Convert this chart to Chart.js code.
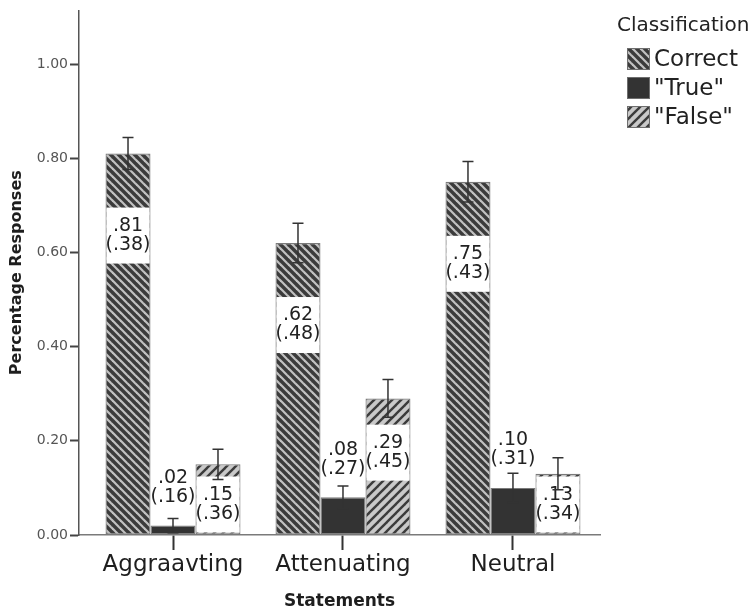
<!DOCTYPE html>
<html>
<head>
<meta charset="utf-8">
<script src="https://cdn.jsdelivr.net/npm/chart.js@4.4.1/dist/chart.umd.min.js"></script>
<style>
  html, body { margin: 0; padding: 0; background: #ffffff; }
  canvas { display: block; }
</style>
</head>
<body>
<canvas id="c" width="754" height="615"></canvas>
<script>
// Mean proportion of responses per statement type, with SD and 95% CI half-width
const categories = ['Aggraavting', 'Attenuating', 'Neutral'];
const seriesNames = ['Correct', '"True"', '"False"'];
const correctMeans = [0.81, 0.62, 0.75];
const correctSD = [0.38, 0.48, 0.43];
const correctCI = [0.034, 0.042, 0.043];
const trueMeans = [0.02, 0.08, 0.10];
const trueSD = [0.16, 0.27, 0.31];
const trueCI = [0.015, 0.024, 0.031];
const falseMeans = [0.15, 0.29, 0.13];
const falseSD = [0.36, 0.45, 0.34];
const falseCI = [0.032, 0.040, 0.034];
const yTicks = [0, 0.2, 0.4, 0.6, 0.8, 1.0];

Chart.defaults.font.family = '"DejaVu Sans", sans-serif';

const canvas = document.getElementById('c');
const ctx = canvas.getContext('2d');

// Diagonal hatch fill: 'down' = "\" stripes, 'up' = "/" stripes
function hatch(bg, fg, size, lw, dir) {
  const t = document.createElement('canvas');
  t.width = t.height = size;
  const g = t.getContext('2d');
  g.fillStyle = bg;
  g.fillRect(0, 0, size, size);
  g.strokeStyle = fg;
  g.lineWidth = lw;
  for (let k = -1; k <= 1; k++) {
    g.beginPath();
    if (dir === 'down') {
      g.moveTo(k * size - size, -size);
      g.lineTo(k * size + 2 * size, 2 * size);
    } else {
      g.moveTo(k * size - size, 2 * size);
      g.lineTo(k * size + 2 * size, -size);
    }
    g.stroke();
  }
  return ctx.createPattern(t, 'repeat');
}

const fillCorrect = hatch('#3b3b3b', '#c2c2c2', 8, 2.2, 'down');
const fillTrue = '#333333';
const fillFalse = hatch('#c9c9c9', '#3b3b3b', 9, 2.4, 'up');
const fills = [fillCorrect, fillTrue, fillFalse];

const toPoints = arr => arr.map((v, i) => ({ x: i, y: v }));

const datasets = [
  { label: seriesNames[0], data: toPoints(correctMeans), backgroundColor: fillCorrect, sd: correctSD, ci: correctCI },
  { label: seriesNames[1], data: toPoints(trueMeans), backgroundColor: fillTrue, sd: trueSD, ci: trueCI },
  { label: seriesNames[2], data: toPoints(falseMeans), backgroundColor: fillFalse, sd: falseSD, ci: falseCI }
];

const fmt = v => v.toFixed(2).replace(/^0/, '');

// Value labels (mean and SD) in white boxes, then CI whiskers
const annotate = {
  id: 'annotate',
  afterDatasetsDraw(chart) {
    const c = chart.ctx;
    const yS = chart.scales.y;
    chart.data.datasets.forEach((ds, di) => {
      const meta = chart.getDatasetMeta(di);
      meta.data.forEach((bar, i) => {
        const p = bar.getProps(['x', 'y', 'base', 'width'], true);
        const mean = ds.data[i].y;
        const h = p.base - p.y;
        const boxH = 56;
        const boxW = p.width - 2;
        let cy;
        if (h > 60) {
          cy = p.y + Math.min(82, 27 + 0.2 * h);
          if (cy + boxH / 2 > p.base - 2) cy = p.base - 2 - boxH / 2;
          c.fillStyle = '#ffffff';
          c.fillRect(p.x - boxW / 2, cy - boxH / 2, boxW, boxH);
        } else {
          cy = p.y - 38;
        }
        c.save();
        c.fillStyle = '#222222';
        c.font = '19px "DejaVu Sans", sans-serif';
        c.textAlign = 'center';
        c.textBaseline = 'middle';
        c.fillText(fmt(mean), p.x, cy - 9.5);
        c.fillText('(' + fmt(ds.sd[i]) + ')', p.x, cy + 9.5);
        c.restore();

        const yTop = yS.getPixelForValue(mean + ds.ci[i]);
        const yBot = yS.getPixelForValue(mean - ds.ci[i]);
        c.save();
        c.strokeStyle = '#333333';
        c.lineWidth = 1.5;
        c.beginPath();
        c.moveTo(p.x, yTop); c.lineTo(p.x, yBot);
        c.moveTo(p.x - 5.5, yTop); c.lineTo(p.x + 5.5, yTop);
        c.moveTo(p.x - 5.5, yBot); c.lineTo(p.x + 5.5, yBot);
        c.stroke();
        c.restore();
      });
    });
  },
  afterDraw(chart) {
    const c = chart.ctx;
    c.save();
    c.fillStyle = '#222222';
    c.textAlign = 'left';
    c.textBaseline = 'middle';
    c.font = '20px "DejaVu Sans", sans-serif';
    c.fillText('Classification', 617, 26);
    c.font = '23px "DejaVu Sans", sans-serif';
    seriesNames.forEach((name, k) => {
      const top = 48 + k * 29;
      c.fillStyle = fills[k];
      c.fillRect(627, top, 23, 22);
      c.strokeStyle = '#6e6e6e';
      c.lineWidth = 1;
      c.strokeRect(627.5, top + 0.5, 22, 21);
      c.fillStyle = '#222222';
      c.fillText(name, 654, top + 12);
    });
    c.restore();
  }
};

new Chart(ctx, {
  type: 'bar',
  data: { datasets },
  options: {
    responsive: false,
    animation: false,
    devicePixelRatio: 1,
    layout: { padding: { top: 6, right: 154, left: 0, bottom: 0 } },
    datasets: {
      bar: {
        categoryPercentage: 0.794,
        barPercentage: 1,
        borderWidth: 1.2,
        borderColor: '#7a7a7a',
        borderSkipped: false
      }
    },
    plugins: {
      legend: { display: false },
      tooltip: { enabled: false }
    },
    scales: {
      x: {
        type: 'linear',
        min: -0.553,
        max: 2.512,
        bounds: 'data',
        offset: false,
        afterBuildTicks: s => { s.ticks = categories.map((_, i) => ({ value: i })); },
        afterFit: s => { s.height = 80; },
        ticks: {
          callback: v => categories[v],
          font: { size: 23 },
          color: '#1e1e1e',
          padding: 1,
          autoSkip: false,
          maxRotation: 0
        },
        grid: {
          offset: false,
          drawOnChartArea: false,
          drawTicks: true,
          tickLength: 15,
          tickColor: '#333333',
          tickWidth: 2
        },
        border: { display: true, color: '#7a7a7a', width: 1.5 },
        title: {
          display: true,
          text: 'Statements',
          font: { size: 17, weight: 'bold' },
          color: '#1e1e1e',
          padding: { top: 0, bottom: 3 }
        }
      },
      y: {
        min: 0,
        max: 1.114,
        afterBuildTicks: s => { s.ticks = yTicks.map(v => ({ value: v })); },
        afterFit: s => { s.width = 79; },
        ticks: {
          callback: v => v.toFixed(2),
          font: { size: 14 },
          color: '#555555',
          padding: 2
        },
        grid: {
          drawOnChartArea: false,
          drawTicks: true,
          tickLength: 9,
          tickColor: '#444444',
          tickWidth: 2
        },
        border: { display: true, color: '#555555', width: 1.5 },
        title: {
          display: true,
          text: 'Percentage Responses',
          font: { size: 16, weight: 'bold' },
          color: '#1e1e1e',
          padding: { top: 7, bottom: 0 }
        }
      }
    }
  },
  plugins: [annotate]
});
</script>
</body>
</html>
